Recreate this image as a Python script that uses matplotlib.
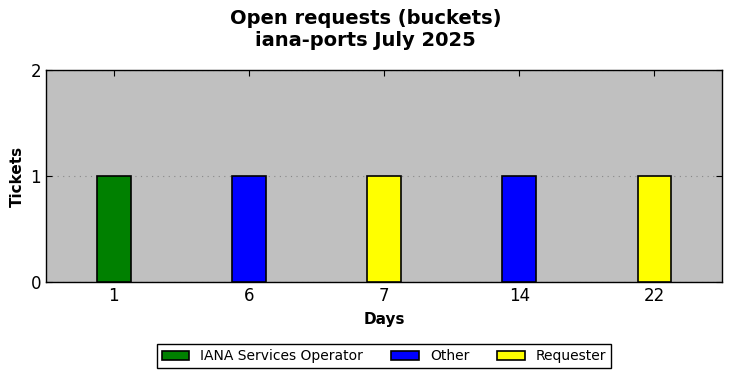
import matplotlib.pyplot as plt
import numpy as np

days = ["1", "6", "7", "14", "22"]
buckets = ["IANA Services Operator", "Other", "Requester", "Other", "Requester"]
tickets = [1, 1, 1, 1, 1]

legend_order = ["IANA Services Operator", "Other", "Requester"]
colors = {"IANA Services Operator": "green", "Other": "blue", "Requester": "yellow"}

fig = plt.figure(figsize=(7.31, 3.78), dpi=100)
ax = fig.add_axes([46 / 731, 1 - 282 / 378, 676 / 731, 212 / 378])
ax.set_facecolor("#c0c0c0")

x = np.arange(len(days))
for name in legend_order:
    idx = [i for i, b in enumerate(buckets) if b == name]
    ax.bar(x[idx], [tickets[i] for i in idx], width=0.25, color=colors[name],
           edgecolor="black", linewidth=1.2, label=name, zorder=3)

ax.set_xlim(-0.5, len(days) - 0.5)
ax.set_ylim(0, 2)
ax.set_yticks([0, 1, 2])
ax.set_xticks(x)
ax.set_xticklabels(days)
ax.yaxis.grid(True, linestyle=(0, (1, 4)), color="#888888", linewidth=0.8, zorder=1)
ax.tick_params(axis="both", labelsize=12, top=True, right=True, direction="in", length=4)
for s in ax.spines.values():
    s.set_linewidth(1.0)

ax.set_xlabel("Days", fontsize=11, fontweight="bold", labelpad=5)
ax.set_ylabel("Tickets", fontsize=11, fontweight="bold")
fig.suptitle("Open requests (buckets)\niana-ports July 2025", fontsize=14, fontweight="bold", y=0.975)

leg = ax.legend(loc="upper center", bbox_to_anchor=(0.5, -0.262), ncol=3, fontsize=10,
                fancybox=False, edgecolor="black", framealpha=1,
                handlelength=2.0, columnspacing=2.0, borderpad=0.35)
leg.get_frame().set_linewidth(1.0)

fig.savefig("out.png", dpi=100)
